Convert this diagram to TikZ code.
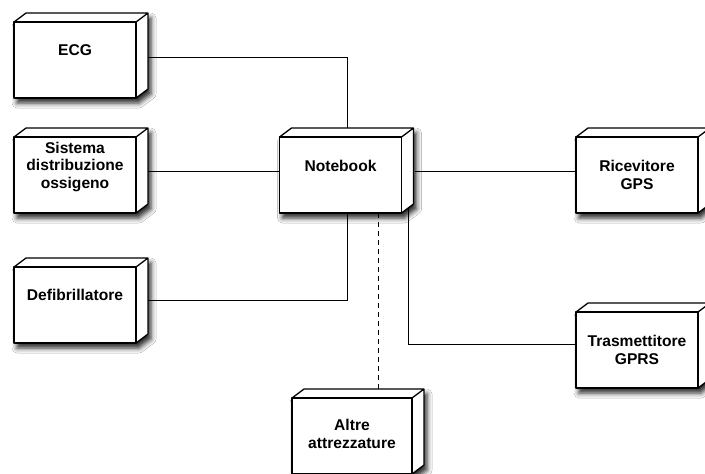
\documentclass[tikz,border=0pt]{standalone}
\usepackage{fontspec}
\setmainfont{Liberation Sans}
\usetikzlibrary{calc,shadows.blur}
\tikzset{
  box/.style={draw=none, minimum width=122pt, minimum height=76pt, inner sep=0pt, outer sep=0pt},
  lbl/.style={anchor=north, inner sep=0pt, align=center, font=\fontsize{15.6}{17.5}\selectfont\bfseries},
  conn/.style={line width=1pt, black},
  face/.style={line width=1.3pt, line join=round, black},
}
\newcommand\cubeshape[1]{%
  \fill[white, blur shadow={shadow xshift=3pt, shadow yshift=-5pt, shadow blur radius=5pt, shadow opacity=85}]
    (#1.south west) -- (#1.north west) -- ($(#1.north west)+(12,-9)$) -- ($(#1.north east)+(12,-9)$)
    -- ($(#1.south east)+(12,-9)$) -- (#1.south east) -- cycle;
  \draw[face] (#1.south west) rectangle (#1.north east);
  \draw[face] (#1.north west) -- ($(#1.north west)+(12,-9)$) -- ($(#1.north east)+(12,-9)$)
    -- ($(#1.south east)+(12,-9)$) -- (#1.south east)
    (#1.north east) -- ($(#1.north east)+(12,-9)$);
}
\begin{document}
\begin{tikzpicture}[x=1pt,y=-1pt]
  \fill[white] (0,0) rectangle (705,474);
  \useasboundingbox (0,0) rectangle (705,474);
  % boxes
  \node[box] (ecg) at (75,60) {};
  \node[box] (sis) at (75,175) {};
  \node[box] (def) at (75,305) {};
  \node[box] (nb)  at (340.5,175) {};
  \node[box] (ric) at (637,175) {};
  \node[box] (tra) at (637,350) {};
  \node[box, minimum width=120pt] (alt) at (352,436) {};
  \cubeshape{ecg}
  \cubeshape{sis}
  \cubeshape{def}
  \cubeshape{nb}
  \cubeshape{ric}
  \cubeshape{tra}
  \cubeshape{alt}
  % connectors
  \draw[conn] ($(ecg.east)+(12,-3)$) -| ($(nb.north)+(6.5,-9)$);
  \draw[conn] ($(sis.east)+(12,-4)$) -- ($(nb.west)+(0,-4)$);
  \draw[conn] ($(def.east)+(12,-5)$) -| ($(nb.south)+(6.5,0)$);
  \draw[conn] ($(nb.east)+(13,-4)$) -- ($(ric.west)+(0,-4)$);
  \draw[conn] ($(nb.south east)+(7,-5)$) |- ($(tra.west)+(0,-6)$);
  \draw[conn, dash pattern=on 5pt off 4pt] ($(nb.south)+(37.5,0)$) -- ($(alt.north)+(26,-9)$);
  % labels
  \node[lbl] (ecgt) at ($(ecg.north)+(0,22.5)$) {ECG};
  \node[lbl] (sist) at ($(sis.north)+(0,4.5)$) {Sistema\\distribuzione\\ossigeno};
  \node[lbl] (deft) at ($(def.north)+(0,22)$) {Defibrillatore};
  \node[lbl] (nbt)  at ($(nb.north)+(0,22.5)$) {Notebook};
  \node[lbl] (rict) at ($(ric.north)+(0,23)$) {Ricevitore\\GPS};
  \node[lbl] (trat) at ($(tra.north)+(0,23)$) {Trasmettitore\\GPRS};
  \node[lbl] (altt) at ($(alt.north)+(0,21)$) {Altre\\attrezzature};
\end{tikzpicture}
\end{document}
